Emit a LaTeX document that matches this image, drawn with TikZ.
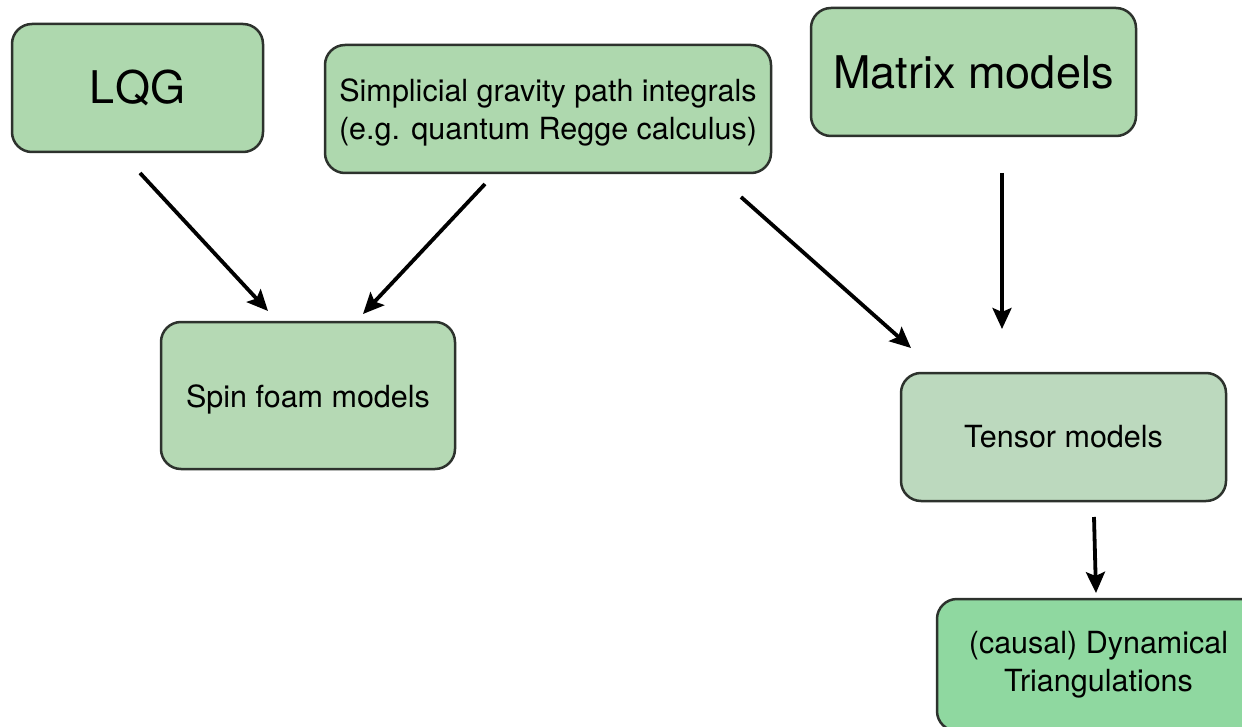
\documentclass[tikz,border=0pt]{standalone}
\usepackage{fontspec}
\setmainfont{TeX Gyre Heros}
\usetikzlibrary{arrows.meta}
\definecolor{boxA}{RGB}{174,216,174}
\definecolor{boxB}{RGB}{181,217,180}
\definecolor{boxC}{RGB}{188,217,190}
\definecolor{boxD}{RGB}{143,216,160}
\definecolor{edge}{RGB}{45,50,45}
\tikzset{
  box/.style={draw=edge, line width=2.5pt, rounded corners=20pt, inner sep=0pt, align=center, text=black},
  big/.style={font=\fontsize{45}{50}\selectfont},
  small/.style={font=\fontsize{30.5}{38}\selectfont},
  arr/.style={line width=3.8pt, -{Stealth[length=21pt,width=19pt,inset=4pt]}}
}
\begin{document}
\begin{tikzpicture}[x=1pt,y=-1pt]
\clip (0,0) rectangle (1242,727);
\fill[white] (0,0) rectangle (1242,727);
\node[box, big, fill=boxA, minimum width=251pt, minimum height=128pt] (lqg) at (137.5,88) {LQG};
\node[box, small, fill=boxA, minimum width=446pt, minimum height=128pt] (simp) at (548,109) {};
\node[small, align=center, inner sep=0pt] (simptext) at (548,112) {Simplicial gravity path integrals\\(e.g. quantum Regge calculus)};
\node[box, big, fill=boxA, minimum width=325pt, minimum height=128pt] (matrix) at (973.5,72) {Matrix models};
\node[box, small, fill=boxB, minimum width=294pt, minimum height=147pt] (spin) at (308,395.5) {};
\node[small, inner sep=0pt] (spintext) at (308,399) {Spin foam models};
\node[box, small, fill=boxC, minimum width=325pt, minimum height=128pt] (tensor) at (1063.5,437) {Tensor models};
\node[box, small, fill=boxD, minimum width=323pt, minimum height=132pt] (dyn) at (1098.5,665) {(causal) Dynamical\\Triangulations};
\coordinate (a1s) at (140,173); \coordinate (a1e) at (268,311);
\coordinate (a2s) at (485,184); \coordinate (a2e) at (363,314);
\coordinate (a3s) at (741,197); \coordinate (a3e) at (911,348);
\coordinate (a4s) at (1002,173); \coordinate (a4e) at (1002,329);
\coordinate (a5s) at (1094,517); \coordinate (a5e) at (1096,593);
\draw[arr] (a1s) -- (a1e);
\draw[arr] (a2s) -- (a2e);
\draw[arr] (a3s) -- (a3e);
\draw[arr] (a4s) -- (a4e);
\draw[arr] (a5s) -- (a5e);
\end{tikzpicture}
\end{document}
